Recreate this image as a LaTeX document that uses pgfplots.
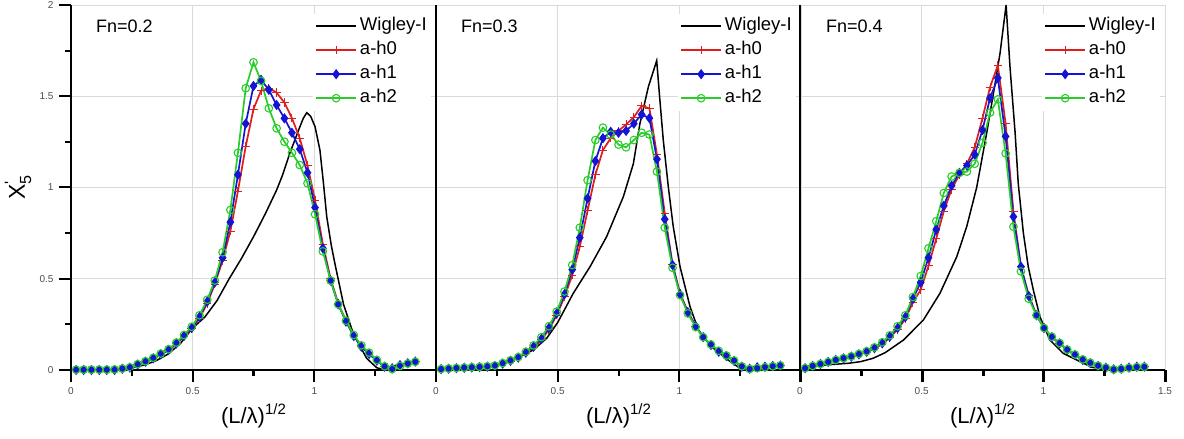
\documentclass[border=0pt]{standalone}
\usepackage{fontspec}
\setmainfont{Liberation Sans}
\usepackage{amsmath}
\usepackage{pgfplots}
\usepackage{pgfplotstable}
\pgfplotsset{compat=1.18}

\definecolor{cred}{RGB}{220,30,30}
\definecolor{cblue}{RGB}{20,20,210}
\definecolor{cgreen}{RGB}{40,205,40}
\definecolor{cgrid}{RGB}{218,218,218}

% columns: x, a-h0, a-h1, a-h2
\pgfplotstableread{
x h0 h1 h2
0.021 0.000 0.000 0.002
0.052 0.000 0.000 0.002
0.084 0.000 0.000 0.002
0.116 0.000 0.000 0.002
0.147 0.000 0.000 0.002
0.179 0.002 0.000 0.003
0.211 0.006 0.007 0.008
0.242 0.012 0.013 0.015
0.274 0.028 0.030 0.032
0.306 0.043 0.045 0.048
0.338 0.062 0.064 0.067
0.369 0.084 0.086 0.090
0.401 0.108 0.110 0.114
0.433 0.143 0.146 0.150
0.464 0.182 0.186 0.192
0.496 0.225 0.230 0.237
0.528 0.283 0.290 0.300
0.560 0.365 0.375 0.385
0.591 0.470 0.480 0.490
0.623 0.600 0.615 0.645
0.655 0.760 0.810 0.877
0.686 0.980 1.070 1.190
0.718 1.225 1.350 1.544
0.750 1.430 1.556 1.686
0.781 1.530 1.590 1.584
0.813 1.545 1.535 1.434
0.845 1.520 1.452 1.324
0.877 1.465 1.379 1.251
0.908 1.380 1.300 1.190
0.940 1.270 1.210 1.123
0.972 1.120 1.081 1.023
1.003 0.930 0.890 0.853
1.035 0.690 0.667 0.650
1.067 0.500 0.490 0.490
1.098 0.365 0.360 0.360
1.130 0.270 0.265 0.270
1.162 0.190 0.186 0.192
1.193 0.130 0.128 0.135
1.225 0.090 0.088 0.095
1.257 0.052 0.051 0.055
1.289 0.018 0.018 0.020
1.320 0.008 0.009 0.005
1.352 0.026 0.027 0.022
1.384 0.036 0.037 0.035
1.415 0.046 0.046 0.045
}\tabA

\pgfplotstableread{
x h0 h1 h2
0.021 0.004 0.005 0.005
0.052 0.006 0.007 0.008
0.084 0.009 0.010 0.011
0.116 0.011 0.012 0.013
0.147 0.013 0.014 0.015
0.179 0.015 0.016 0.017
0.211 0.017 0.018 0.020
0.242 0.021 0.022 0.025
0.274 0.033 0.035 0.038
0.306 0.048 0.050 0.053
0.338 0.066 0.068 0.071
0.369 0.092 0.095 0.100
0.401 0.124 0.128 0.135
0.433 0.165 0.170 0.180
0.464 0.222 0.230 0.240
0.496 0.300 0.310 0.320
0.528 0.400 0.415 0.430
0.560 0.520 0.550 0.575
0.591 0.676 0.725 0.780
0.623 0.873 0.940 1.040
0.655 1.070 1.145 1.260
0.686 1.205 1.270 1.328
0.718 1.270 1.305 1.290
0.750 1.310 1.300 1.235
0.781 1.345 1.310 1.220
0.813 1.385 1.350 1.260
0.845 1.447 1.400 1.300
0.877 1.434 1.380 1.290
0.908 1.180 1.155 1.087
0.940 0.860 0.826 0.780
0.972 0.580 0.575 0.560
1.003 0.420 0.415 0.410
1.035 0.320 0.316 0.310
1.067 0.240 0.240 0.235
1.098 0.180 0.180 0.180
1.130 0.137 0.137 0.140
1.162 0.100 0.100 0.105
1.193 0.077 0.077 0.080
1.225 0.050 0.050 0.052
1.257 0.018 0.018 0.020
1.289 0.006 0.007 0.005
1.320 0.014 0.015 0.010
1.352 0.018 0.018 0.015
1.384 0.022 0.022 0.020
1.415 0.024 0.024 0.025
}\tabB

\pgfplotstableread{
x h0 h1 h2
0.021 0.010 0.010 0.010
0.052 0.022 0.022 0.022
0.084 0.033 0.033 0.033
0.116 0.044 0.044 0.044
0.147 0.055 0.055 0.055
0.179 0.064 0.064 0.065
0.211 0.073 0.073 0.075
0.242 0.085 0.086 0.088
0.274 0.098 0.100 0.103
0.306 0.117 0.120 0.124
0.338 0.142 0.146 0.152
0.369 0.177 0.183 0.190
0.401 0.222 0.230 0.240
0.433 0.280 0.290 0.300
0.464 0.370 0.390 0.400
0.496 0.440 0.480 0.515
0.528 0.570 0.615 0.667
0.560 0.720 0.770 0.816
0.591 0.870 0.900 0.970
0.623 0.990 1.010 1.060
0.655 1.070 1.080 1.080
0.686 1.130 1.120 1.087
0.718 1.220 1.180 1.130
0.750 1.380 1.315 1.245
0.781 1.550 1.490 1.410
0.813 1.670 1.600 1.483
0.845 1.350 1.280 1.187
0.877 0.870 0.840 0.785
0.908 0.566 0.566 0.540
0.940 0.410 0.405 0.390
0.972 0.300 0.300 0.300
1.003 0.230 0.230 0.230
1.035 0.180 0.180 0.182
1.067 0.146 0.146 0.148
1.098 0.110 0.110 0.112
1.130 0.082 0.082 0.085
1.162 0.055 0.055 0.058
1.193 0.037 0.037 0.040
1.225 0.022 0.022 0.024
1.257 0.013 0.013 0.013
1.289 0.004 0.004 0.003
1.320 0.007 0.007 0.006
1.352 0.013 0.013 0.012
1.384 0.018 0.018 0.016
1.415 0.018 0.018 0.017
}\tabC

\tikzset{fnlab/.style={anchor=west, inner sep=0pt, font=\fontsize{18}{20}\selectfont}}

\pgfplotsset{
  panel/.style={
    scale only axis, width=365pt, height=365pt,
    xmin=0, xmax=1.5, ymin=0, ymax=2,
    axis x line*=bottom, axis y line*=left,
    axis line style={line width=2pt, black},
    xtick pos=bottom, ytick pos=left,
    xtick={0,0.5,1,1.5}, ytick={0,0.5,1,1.5,2},
    tick align=outside,
    major tick length=12pt,
    tick style={black, line width=2pt},
    grid=major, grid style={cgrid, line width=0.8pt},
    tick label style={font=\fontsize{10}{12}\selectfont, text=black!70},
    xticklabel style={yshift=-2pt},
    yticklabel style={xshift=-2pt},
    /pgf/number format/assume math mode=true,
    clip=false, unbounded coords=jump,
    xlabel={(L/λ)\raisebox{9pt}{\fontsize{15}{15}\selectfont 1/2}},
    xlabel style={at={(axis description cs:0.5,0)}, anchor=base, yshift=-53pt, font=\fontsize{22}{24}\selectfont},
    legend style={at={(rel axis cs:1,1)}, anchor=north east, xshift=-5pt, yshift=-8.5pt,
      draw=none, fill=white, font=\fontsize{18.5}{20}\selectfont,
      row sep=3pt, column sep=1pt, inner xsep=2pt, inner ysep=2pt,
      nodes={inner sep=2pt, text height=13pt, text depth=4pt},
      cells={anchor=west}},
    legend image code/.code={\draw[mark repeat=2,mark phase=2,##1] plot coordinates {(0pt,0pt)(20pt,0pt)(40pt,0pt)};},
  },
  wig/.style={black, line width=1.5pt, mark=none},
  ha/.style={cred, line width=1.7pt, mark=+, mark size=4.2pt, mark options={line width=1pt}},
  hb/.style={cblue, line width=1.7pt, mark=diamond*, mark size=3.8pt, mark options={fill=cblue}},
  hc/.style={cgreen, line width=1.7pt, mark=o, mark size=3.8pt, mark options={line width=1.1pt}},
  tks/.style={black, line width=2pt, mark=none, forget plot},
}

\begin{document}
\begin{tikzpicture}
% Fn = 0.2
\begin{axis}[panel, at={(0pt,0pt)}, xticklabels={0,0.5,1,{}}]
\addplot[wig] coordinates {(0,0)(0.1,0)(0.2,0.004)(0.25,0.011)(0.3,0.027)(0.35,0.051)(0.4,0.088)(0.45,0.146)(0.5,0.23)(0.55,0.29)(0.6,0.38)(0.65,0.50)(0.7,0.61)(0.75,0.73)(0.777,0.80)(0.8,0.86)(0.845,0.986)(0.87,1.07)(0.9,1.19)(0.934,1.31)(0.955,1.38)(0.969,1.41)(0.985,1.39)(1.003,1.333)(1.023,1.205)(1.037,1.03)(1.051,0.84)(1.07,0.68)(1.085,0.58)(1.12,0.36)(1.16,0.20)(1.215,0.064)(1.256,0.013)(1.28,0.003)(1.3,0.015)(1.35,0.03)(1.415,0.048)};
\addlegendentry{Wigley-I}
\addplot[ha] table[x=x,y=h0] {\tabA};
\addlegendentry{a-h0}
\addplot[hb] table[x=x,y=h1] {\tabA};
\addlegendentry{a-h1}
\addplot[hc] table[x=x,y=h2] {\tabA};
\addlegendentry{a-h2}
\addplot[tks] coordinates {(0,0)(0,-0.0658) (nan,nan) (0.25,0)(0.25,-0.0329) (nan,nan) (0.5,0)(0.5,-0.0658) (nan,nan) (0.75,0)(0.75,-0.0329) (nan,nan) (1,0)(1,-0.0658) (nan,nan) (1.25,0)(1.25,-0.0329) (nan,nan) (1.5,0)(1.5,-0.0658)};
\addplot[tks] coordinates {(0,0)(-0.0493,0) (nan,nan) (0,0.25)(-0.0247,0.25) (nan,nan) (0,0.5)(-0.0493,0.5) (nan,nan) (0,0.75)(-0.0247,0.75) (nan,nan) (0,1)(-0.0493,1) (nan,nan) (0,1.25)(-0.0247,1.25) (nan,nan) (0,1.5)(-0.0493,1.5) (nan,nan) (0,1.75)(-0.0247,1.75) (nan,nan) (0,2)(-0.0493,2)};
\node[fnlab] at (rel axis cs:0.0685,0.941) {Fn=0.2};
\path (rel axis cs:0,0.5) ++(-46pt,0pt) node[rotate=90, anchor=base, font=\fontsize{23}{24}\selectfont] {X$_{\text{5}}^{\text{\textquotesingle}}$};
\end{axis}
% Fn = 0.3
\begin{axis}[panel, at={(365pt,0pt)}, xticklabels={0,0.5,1,{}}, yticklabels={}, ytick style={draw=none}]
\addplot[wig] coordinates {(0,0)(0.1,0.005)(0.2,0.015)(0.3,0.045)(0.4,0.11)(0.455,0.174)(0.5,0.26)(0.564,0.42)(0.633,0.566)(0.701,0.73)(0.77,0.95)(0.811,1.13)(0.838,1.35)(0.873,1.553)(0.907,1.695)(0.92,1.48)(0.934,1.26)(0.955,1.0)(0.975,0.785)(1.003,0.566)(1.044,0.347)(1.078,0.22)(1.13,0.13)(1.2,0.055)(1.25,0.009)(1.3,0.018)(1.415,0.022)};
\addlegendentry{Wigley-I}
\addplot[ha] table[x=x,y=h0] {\tabB};
\addlegendentry{a-h0}
\addplot[hb] table[x=x,y=h1] {\tabB};
\addlegendentry{a-h1}
\addplot[hc] table[x=x,y=h2] {\tabB};
\addlegendentry{a-h2}
\addplot[tks] coordinates {(0,0)(0,-0.0658) (nan,nan) (0.25,0)(0.25,-0.0329) (nan,nan) (0.5,0)(0.5,-0.0658) (nan,nan) (0.75,0)(0.75,-0.0329) (nan,nan) (1,0)(1,-0.0658) (nan,nan) (1.25,0)(1.25,-0.0329) (nan,nan) (1.5,0)(1.5,-0.0658)};
\node[fnlab] at (rel axis cs:0.0685,0.941) {Fn=0.3};
\end{axis}
% Fn = 0.4
\begin{axis}[panel, at={(729pt,0pt)}, xticklabels={0,0.5,1,1.5}, yticklabels={}, ytick style={draw=none}]
\addplot[wig] coordinates {(0,0.005)(0.05,0.018)(0.1,0.027)(0.2,0.037)(0.25,0.046)(0.3,0.064)(0.35,0.095)(0.425,0.164)(0.507,0.274)(0.575,0.42)(0.644,0.62)(0.685,0.785)(0.726,1.0)(0.767,1.297)(0.795,1.516)(0.822,1.735)(0.847,2.0)(0.863,1.66)(0.884,1.30)(0.897,1.02)(0.918,0.75)(0.938,0.566)(0.959,0.438)(0.986,0.292)(1.027,0.164)(1.082,0.091)(1.151,0.046)(1.2,0.015)(1.25,0.004)(1.3,0.01)(1.415,0.015)};
\addlegendentry{Wigley-I}
\addplot[ha] table[x=x,y=h0] {\tabC};
\addlegendentry{a-h0}
\addplot[hb] table[x=x,y=h1] {\tabC};
\addlegendentry{a-h1}
\addplot[hc] table[x=x,y=h2] {\tabC};
\addlegendentry{a-h2}
\addplot[tks] coordinates {(0,0)(0,-0.0658) (nan,nan) (0.25,0)(0.25,-0.0329) (nan,nan) (0.5,0)(0.5,-0.0658) (nan,nan) (0.75,0)(0.75,-0.0329) (nan,nan) (1,0)(1,-0.0658) (nan,nan) (1.25,0)(1.25,-0.0329) (nan,nan) (1.5,0)(1.5,-0.0658)};
\node[fnlab] at (rel axis cs:0.0712,0.941) {Fn=0.4};
\end{axis}
% tick marks as filled strips, in picture units
\foreach \i in {0,...,18} {\ifodd\i \def\tl{6pt}\else \def\tl{12pt}\fi
  \fill[black] (\i*60.8333pt-1pt,0pt) rectangle (\i*60.8333pt+1pt,-\tl);}
\foreach \j in {0,...,8} {\ifodd\j \def\tl{6pt}\else \def\tl{12pt}\fi
  \fill[black] (0pt,\j*45.625pt-1pt) rectangle (-\tl,\j*45.625pt+1pt);}
\pgfresetboundingbox
\path[use as bounding box] (-71pt,-69pt) rectangle (1113pt,370pt);
\end{tikzpicture}
\end{document}
